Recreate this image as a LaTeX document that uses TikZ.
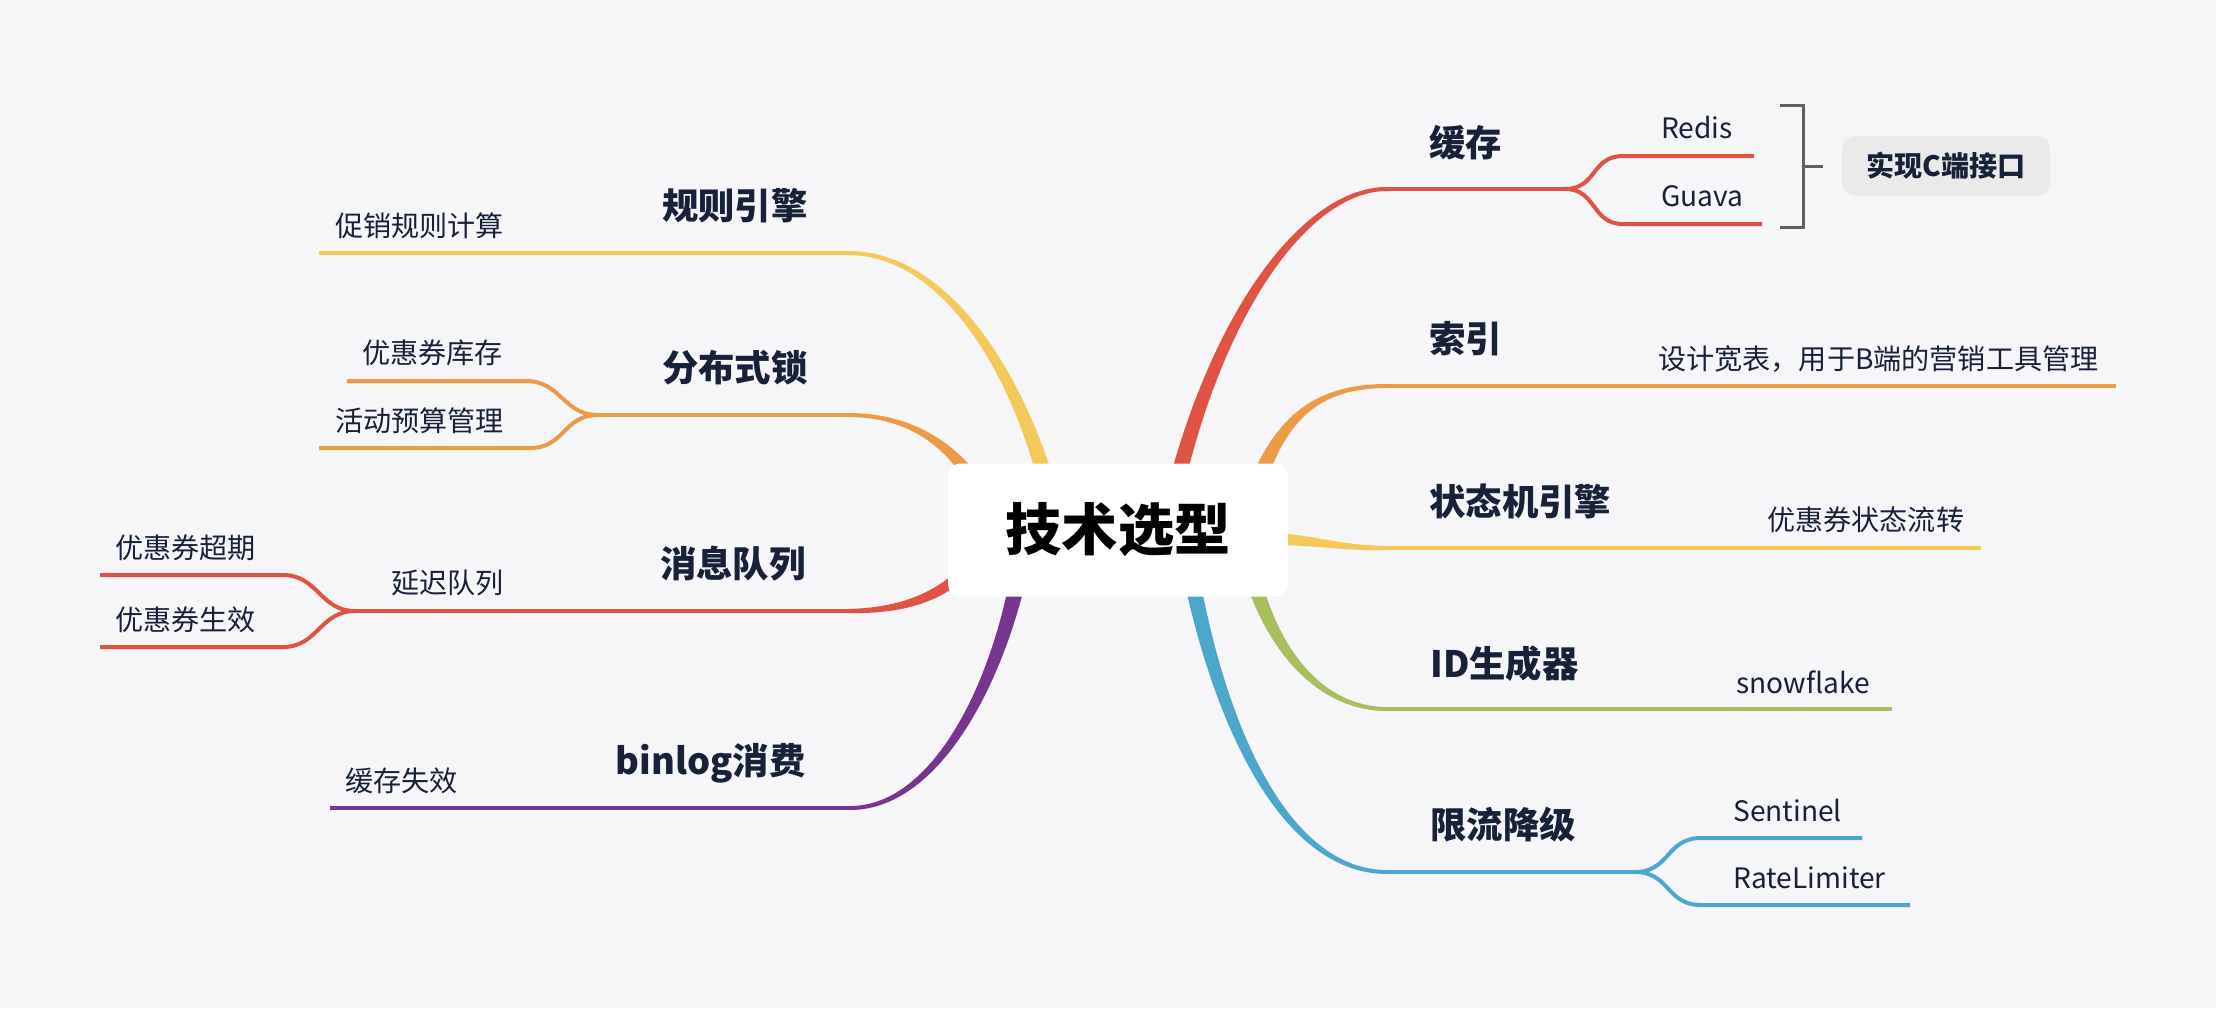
\documentclass[tikz,border=0pt]{standalone}
\usepackage{fontspec}
\setmainfont{Noto Sans CJK SC}
\usepackage{tikz}
\usetikzlibrary{calc, positioning}
\definecolor{bgGray}{HTML}{F6F6F8}
\definecolor{inkNavy}{HTML}{17213A}
\definecolor{mmRed}{HTML}{E05344}
\definecolor{mmOrange}{HTML}{EC9A46}
\definecolor{mmYellow}{HTML}{F4C95A}
\definecolor{mmGreen}{HTML}{A7C05B}
\definecolor{mmBlue}{HTML}{4BA8CC}
\definecolor{mmPurple}{HTML}{773590}
\definecolor{braceGray}{HTML}{5F5F5F}
\definecolor{noteGray}{HTML}{EAEAEA}

% tapered limb: colour, thin end, two controls, thick end, half width
\newcommand{\limb}[6]{%
  \filldraw[#1, line width=0.08cm, line join=round]
    (#2) .. controls ($(#3)+0.25*(#6)$) and ($(#4)+0.6*(#6)$) .. ($(#5)+(#6)$)
    -- ($(#5)-(#6)$) .. controls ($(#4)-0.6*(#6)$) and ($(#3)-0.25*(#6)$) .. (#2) -- cycle;}

\begin{document}
\begin{tikzpicture}[x=0.02cm, y=-0.02cm,
  root/.style={fill=white, rounded corners=0.24cm, minimum width=6.8cm, minimum height=2.66cm, font=\fontsize{32}{38}\selectfont\bfseries},
  topic/.style={inner sep=0pt, text=inkNavy, font=\fontsize{20.7}{24}\selectfont\bfseries},
  leaf/.style={inner sep=0pt, text=inkNavy, font=\fontsize{16}{19}\selectfont},
  note/.style={fill=noteGray, rounded corners=0.26cm, minimum width=4.16cm, minimum height=1.2cm, text=inkNavy, font=\fontsize{16}{19}\selectfont\bfseries},
  twig/.style={line width=0.08cm},
  brace/.style={draw=braceGray, line width=0.06cm}
]
  \path[use as bounding box, fill=bgGray] (0,0) rectangle (2216,1008);

  % right side
  \coordinate (cache-l) at (1387,189);
  \coordinate (cache-f) at (1565,189);
  \coordinate (redis-a) at (1623,156);
  \coordinate (redis-b) at (1754,156);
  \coordinate (guava-a) at (1623,224);
  \coordinate (guava-b) at (1762,224);
  \coordinate (idx-l) at (1387,386);
  \coordinate (idx-r) at (2116,386);
  \coordinate (fsm-l) at (1387,548);
  \coordinate (fsm-r) at (1981,548);
  \coordinate (idgen-l) at (1387,709);
  \coordinate (idgen-r) at (1892,709);
  \coordinate (limit-l) at (1387,872);
  \coordinate (limit-f) at (1635,872);
  \coordinate (sentinel-a) at (1701,838);
  \coordinate (sentinel-b) at (1862,838);
  \coordinate (ratelim-a) at (1701,905);
  \coordinate (ratelim-b) at (1910,905);
  % left side
  \coordinate (rule-r) at (848,253);
  \coordinate (rule-l) at (319,253);
  \coordinate (lock-r) at (848,415);
  \coordinate (lock-f) at (598,415);
  \coordinate (stock-a) at (526,381);
  \coordinate (stock-b) at (347,381);
  \coordinate (budget-a) at (530,448);
  \coordinate (budget-b) at (319,448);
  \coordinate (mq-r) at (848,611);
  \coordinate (mq-f) at (355,611);
  \coordinate (expire-a) at (283,575);
  \coordinate (expire-b) at (100,575);
  \coordinate (active-a) at (283,647);
  \coordinate (active-b) at (100,647);
  \coordinate (binlog-r) at (850,808);
  \coordinate (binlog-l) at (330,808);
  % thick ends, under the root box
  \coordinate (cache-in) at (1179,474);
  \coordinate (idx-in) at (1260,476);
  \coordinate (fsm-in) at (1278,539);
  \coordinate (idgen-in) at (1255,585);
  \coordinate (limit-in) at (1193,585);
  \coordinate (rule-in) at (1044,474);
  \coordinate (lock-in) at (972,478);
  \coordinate (mq-in) at (962,574);
  \coordinate (binlog-in) at (1016,588);

  \limb{mmRed}{cache-l}{1310,189}{1225,300}{cache-in}{6,0}
  \limb{mmOrange}{idx-l}{1320,386}{1285,415}{idx-in}{6,0}
  \limb{mmYellow}{fsm-l}{1340,548}{1320,541}{fsm-in}{0,4}
  \limb{mmGreen}{idgen-l}{1320,709}{1275,650}{idgen-in}{6,0}
  \limb{mmBlue}{limit-l}{1290,872}{1225,740}{limit-in}{6,0}
  \limb{mmYellow}{rule-r}{940,253}{1010,360}{rule-in}{6,0}
  \limb{mmOrange}{lock-r}{905,415}{945,440}{lock-in}{6,0}
  \limb{mmRed}{mq-r}{900,611}{935,598}{mq-in}{0,5}
  \limb{mmPurple}{binlog-r}{930,808}{990,700}{binlog-in}{6,0}

  \draw[twig, mmRed] (cache-l) -- (cache-f);
  \foreach \kid in {redis, guava}
    \draw[twig, mmRed] (cache-f) .. controls +(32,0) and +(-32,0) .. (\kid-a) -- (\kid-b);
  \draw[twig, mmOrange] (idx-l) -- (idx-r);
  \draw[twig, mmYellow] (fsm-l) -- (fsm-r);
  \draw[twig, mmGreen] (idgen-l) -- (idgen-r);
  \draw[twig, mmBlue] (limit-l) -- (limit-f);
  \foreach \kid in {sentinel, ratelim}
    \draw[twig, mmBlue] (limit-f) .. controls +(35,0) and +(-35,0) .. (\kid-a) -- (\kid-b);
  \draw[twig, mmYellow] (rule-l) -- (rule-r);
  \draw[twig, mmOrange] (lock-f) -- (lock-r);
  \foreach \kid in {stock, budget}
    \draw[twig, mmOrange] (lock-f) .. controls +(-35,0) and +(35,0) .. (\kid-a) -- (\kid-b);
  \draw[twig, mmRed] (mq-f) -- (mq-r);
  \foreach \kid in {expire, active}
    \draw[twig, mmRed] (mq-f) .. controls +(-35,0) and +(35,0) .. (\kid-a) -- (\kid-b);
  \draw[twig, mmPurple] (binlog-l) -- (binlog-r);

  \node[root] (root) at (1118,530) {技术选型};

  \node[topic, anchor=west] (cache) at (1429,143) {缓存};
  \node[topic, anchor=west] (idx) at (1429,339) {索引};
  \node[topic, anchor=west] (fsm) at (1429,501) {状态机引擎};
  \node[topic, anchor=west] (idgen) at (1430,664) {ID生成器};
  \node[topic, anchor=west] (limit) at (1430,825) {限流降级};
  \node[topic, anchor=east] (rule) at (808,206) {规则引擎};
  \node[topic, anchor=east] (lock) at (808,368) {分布式锁};
  \node[topic, anchor=east] (mq) at (806,564) {消息队列};
  \node[topic, anchor=east] (binlog) at (806,763) {binlog消费};

  \node[leaf, anchor=base west] (redis) at (1661,138) {Redis};
  \node[leaf, anchor=base west] (guava) at (1661,206) {Guava};
  \node[leaf, anchor=base west] (wide) at (1658,369) {设计宽表，用于B端的营销工具管理};
  \node[leaf, anchor=base west] (flow) at (1767,530) {优惠券状态流转};
  \node[leaf, anchor=base west] (snow) at (1736,693) {snowflake};
  \node[leaf, anchor=base west] (sentinel) at (1733,821) {Sentinel};
  \node[leaf, anchor=base west] (ratelim) at (1733,888) {RateLimiter};
  \node[leaf, anchor=base west] (promo) at (335,236) {促销规则计算};
  \node[leaf, anchor=base west] (stock) at (362,363) {优惠券库存};
  \node[leaf, anchor=base west] (budget) at (335,431) {活动预算管理};
  \node[leaf, anchor=base west] (expire) at (115,558) {优惠券超期};
  \node[leaf, anchor=base west] (active) at (115,630) {优惠券生效};
  \node[leaf, anchor=base west] (delay) at (391,593) {延迟队列};
  \node[leaf, anchor=base west] (inval) at (345,791) {缓存失效};

  \node[note] (cnote) at (1946,166) {实现C端接口};
  \draw[brace] (1780,105) -- (1803,105) -- (1803,227) -- (1780,227);
  \draw[brace] (1803,166) -- ([xshift=-0.38cm]cnote.west);
\end{tikzpicture}
\end{document}
